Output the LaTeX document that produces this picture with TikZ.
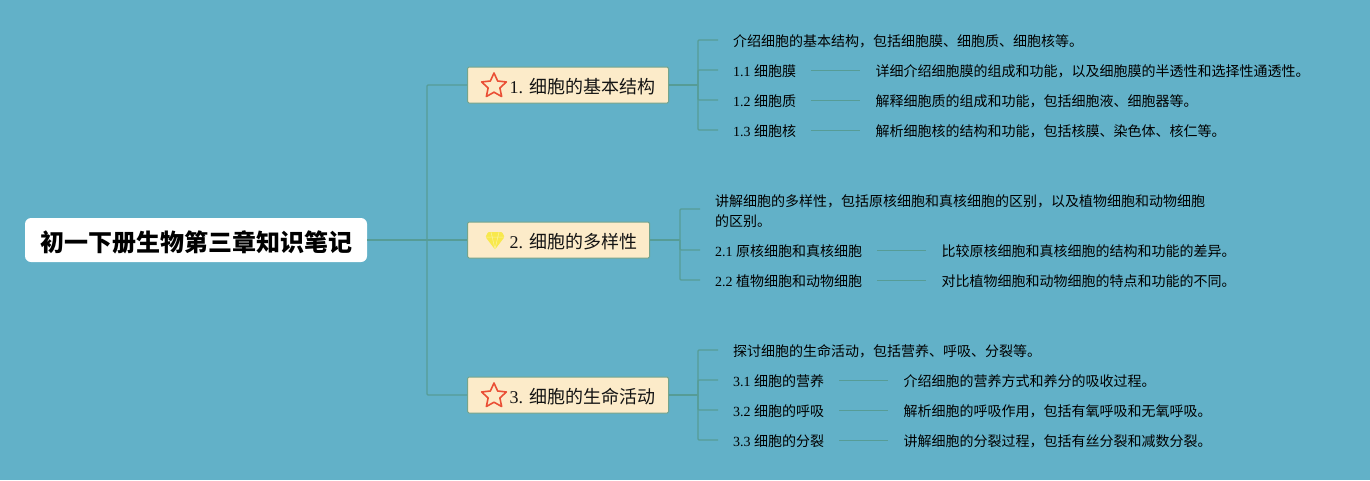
\documentclass[tikz,border=0pt]{standalone}
\usepackage{fontspec}
\setmainfont{Liberation Serif}
\newfontfamily\cjk{Noto Sans CJK SC}
\usetikzlibrary{positioning}
\usetikzlibrary{shapes.geometric}
\definecolor{bgblue}{HTML}{62B1C8}
\definecolor{linkgreen}{HTML}{569C96}
\definecolor{boxfill}{HTML}{FCEBC9}
\definecolor{boxline}{HTML}{74A48C}
\definecolor{starred}{HTML}{EA4F35}
\definecolor{gemyellow}{HTML}{F8E84C}
\definecolor{gemline}{HTML}{FBF3A0}

\begin{document}
\begin{tikzpicture}
[x=1pt,y=-1pt,%
  rootbox/.style={shape=rectangle,rounded corners=6pt,fill=white,inner sep=0pt,text height=25pt,text depth=1.4pt,
    minimum width=342pt,minimum height=44pt,font=\fontsize{24}{24}\selectfont\cjk\bfseries},%
  topicbox/.style={shape=rectangle,rounded corners=1.5pt,draw=boxline,fill=boxfill,line width=1pt,anchor=west,
    inner ysep=0pt,inner xsep=0pt,minimum height=36pt,text height=18pt,text depth=1.4pt,
    font=\fontsize{18}{18}\selectfont,text=black!92},%
  leaf/.style={anchor=west,inner xsep=15pt,inner ysep=2pt,text height=13pt,text depth=0.4pt,
    font=\fontsize{14}{20}\selectfont,text=black,align=left},%
  detail/.style={right=49pt of #1,inner xsep=15pt,inner ysep=2pt,text height=13pt,text depth=0.4pt,
    font=\fontsize{14}{20}\selectfont,text=black},%
  staricon/.style={shape=star,star points=5,star point ratio=2.1,draw=starred,line width=1.6pt,
    inner sep=0pt,minimum size=26pt,line join=round},%
  link/.style={draw=linkgreen,line width=1.3pt},%
  thicklink/.style={draw=linkgreen,line width=2pt}]

\fill[bgblue] (0,0) rectangle (1370,480);
\useasboundingbox (0,0) rectangle (1370,480);

\node[rootbox] (root) at (196,240) {初一下册生物第三章知识笔记};
\coordinate (trunk) at (427,240);

\node[topicbox] (topic1) at (467,85) {\hspace*{42pt}1. {\cjk 细胞的基本结构}\hspace*{13.7pt}};
\node[topicbox] (topic2) at (467,240) {\hspace*{42pt}2. {\cjk 细胞的多样性}\hspace*{12.7pt}};
\node[topicbox] (topic3) at (467,395) {\hspace*{42pt}3. {\cjk 细胞的生命活动}\hspace*{13.7pt}};

\node[staricon] (star1) at (494,86) {};
\node[staricon] (star3) at (494,396) {};
\fill[gemyellow,rounded corners=1pt] (488,232) -- (502,232) -- (504.5,237) -- (495,249.5) -- (485.5,237) -- cycle;
\draw[gemline,line width=0.5pt] (486,237) -- (504,237) (491,232) -- (495,249) -- (499,232);

% topic 1
\coordinate (fork1) at (698,85);
\node[leaf] (a0) at (718,40) {\cjk 介绍细胞的基本结构，包括细胞膜、细胞质、细胞核等。};
\node[leaf] (a1) at (718,70) {1.1 {\cjk 细胞膜}};
\node[leaf] (a2) at (718,100) {1.2 {\cjk 细胞质}};
\node[leaf] (a3) at (718,130) {1.3 {\cjk 细胞核}};
\node[detail=a1] (a1d) {\cjk 详细介绍细胞膜的组成和功能，以及细胞膜的半透性和选择性通透性。};
\node[detail=a2] (a2d) {\cjk 解释细胞质的组成和功能，包括细胞液、细胞器等。};
\node[detail=a3] (a3d) {\cjk 解析细胞核的结构和功能，包括核膜、染色体、核仁等。};

% topic 2
\coordinate (fork2) at (680,240);
\node[leaf,text height=34pt,text depth=0pt] (b0) at (700,209) {\cjk 讲解细胞的多样性，包括原核细胞和真核细胞的区别，以及植物细胞和动物细胞\\\cjk 的区别。};
\node[leaf] (b1) at (700,250) {2.1 {\cjk 原核细胞和真核细胞}};
\node[leaf] (b2) at (700,280) {2.2 {\cjk 植物细胞和动物细胞}};
\node[detail=b1] (b1d) {\cjk 比较原核细胞和真核细胞的结构和功能的差异。};
\node[detail=b2] (b2d) {\cjk 对比植物细胞和动物细胞的特点和功能的不同。};

% topic 3
\coordinate (fork3) at (698,395);
\node[leaf] (c0) at (718,350) {\cjk 探讨细胞的生命活动，包括营养、呼吸、分裂等。};
\node[leaf] (c1) at (718,380) {3.1 {\cjk 细胞的营养}};
\node[leaf] (c2) at (718,410) {3.2 {\cjk 细胞的呼吸}};
\node[leaf] (c3) at (718,440) {3.3 {\cjk 细胞的分裂}};
\node[detail=c1] (c1d) {\cjk 介绍细胞的营养方式和养分的吸收过程。};
\node[detail=c2] (c2d) {\cjk 解析细胞的呼吸作用，包括有氧呼吸和无氧呼吸。};
\node[detail=c3] (c3d) {\cjk 讲解细胞的分裂过程，包括有丝分裂和减数分裂。};

% connectors
\draw[thicklink] (root.east) -- (trunk) -- (topic2.west);
\draw[link,rounded corners=1pt] (trunk) |- (topic1.west);
\draw[link,rounded corners=1pt] (trunk) |- (topic3.west);

\foreach \t/\f in {topic1/fork1,topic2/fork2,topic3/fork3}
  \draw[thicklink] (\t.east) -- (\f);
\foreach \f/\l in {fork1/a0,fork1/a1,fork1/a2,fork1/a3,fork2/b0,fork2/b1,fork2/b2,fork3/c0,fork3/c1,fork3/c2,fork3/c3}
  \draw[link,rounded corners=1pt] (\f) |- (\l.west);
\foreach \l in {a1,a2,a3,b1,b2,c1,c2,c3}
  \draw[link,line width=1pt] (\l.east) -- (\l d.west);
\end{tikzpicture}
\end{document}
